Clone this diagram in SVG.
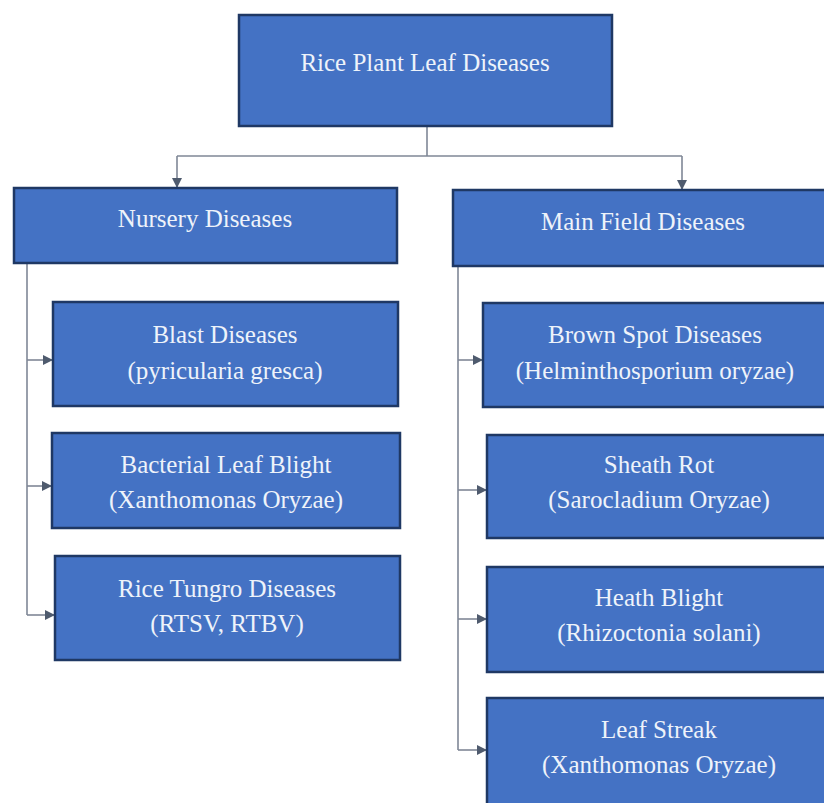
<svg xmlns="http://www.w3.org/2000/svg" width="824" height="803" viewBox="0 0 824 803">
<style>
.box{fill:#4472C4;stroke:#1F3864;stroke-width:2.5}
.t{font-family:"Liberation Serif","DejaVu Serif",serif;font-size:25px;fill:#EEF3FA;text-anchor:middle}
.c{fill:none;stroke:#7F8796;stroke-width:1.6}
</style>
<defs>
<marker id="ah" markerWidth="10" markerHeight="10" refX="9" refY="5" orient="auto" markerUnits="userSpaceOnUse">
<path d="M0,0 L10,5 L0,10 Z" fill="#4F5B6E"/>
</marker>
</defs>
<rect width="824" height="803" fill="#FFFFFF"/>
<g id="connectors">
<path class="c" d="M427,126 V156"/>
<path class="c" d="M177,156 H682"/>
<path class="c" d="M177,156 V187" marker-end="url(#ah)"/>
<path class="c" d="M682,156 V189" marker-end="url(#ah)"/>
<path class="c" d="M27,263 V615"/>
<path class="c" d="M27,360 H52" marker-end="url(#ah)"/>
<path class="c" d="M27,486 H51" marker-end="url(#ah)"/>
<path class="c" d="M27,615 H54" marker-end="url(#ah)"/>
<path class="c" d="M458,266 V750"/>
<path class="c" d="M458,360 H482" marker-end="url(#ah)"/>
<path class="c" d="M458,490 H486" marker-end="url(#ah)"/>
<path class="c" d="M458,619 H486" marker-end="url(#ah)"/>
<path class="c" d="M458,750 H486" marker-end="url(#ah)"/>
</g>
<g id="root">
<rect class="box" x="239" y="15" width="373" height="111"/>
<text class="t" x="425" y="71">Rice Plant Leaf Diseases</text>
</g>
<g id="nursery">
<rect class="box" x="14" y="188" width="383" height="75"/>
<text class="t" x="205" y="227">Nursery Diseases</text>
</g>
<g id="mainfield">
<rect class="box" x="453" y="190" width="380" height="76"/>
<text class="t" x="643" y="230">Main Field Diseases</text>
</g>
<g id="blast">
<rect class="box" x="53" y="302" width="345" height="104"/>
<text class="t" x="225" y="343">Blast Diseases</text>
<text class="t" x="225" y="379">(pyricularia gresca)</text>
</g>
<g id="blb">
<rect class="box" x="52" y="433" width="348" height="95"/>
<text class="t" x="226" y="473">Bacterial Leaf Blight</text>
<text class="t" x="226" y="508">(Xanthomonas Oryzae)</text>
</g>
<g id="tungro">
<rect class="box" x="55" y="556" width="345" height="104"/>
<text class="t" x="227" y="597">Rice Tungro Diseases</text>
<text class="t" x="227" y="632">(RTSV, RTBV)</text>
</g>
<g id="brownspot">
<rect class="box" x="483" y="303" width="350" height="104"/>
<text class="t" x="655" y="343">Brown Spot Diseases</text>
<text class="t" x="655" y="379">(Helminthosporium oryzae)</text>
</g>
<g id="sheathrot">
<rect class="box" x="487" y="435" width="346" height="103"/>
<text class="t" x="659" y="473">Sheath Rot</text>
<text class="t" x="659" y="508">(Sarocladium Oryzae)</text>
</g>
<g id="heathblight">
<rect class="box" x="487" y="567" width="346" height="105"/>
<text class="t" x="659" y="606">Heath Blight</text>
<text class="t" x="659" y="641">(Rhizoctonia solani)</text>
</g>
<g id="leafstreak">
<rect class="box" x="487" y="698" width="346" height="115"/>
<text class="t" x="659" y="738">Leaf Streak</text>
<text class="t" x="659" y="773">(Xanthomonas Oryzae)</text>
</g>
</svg>
